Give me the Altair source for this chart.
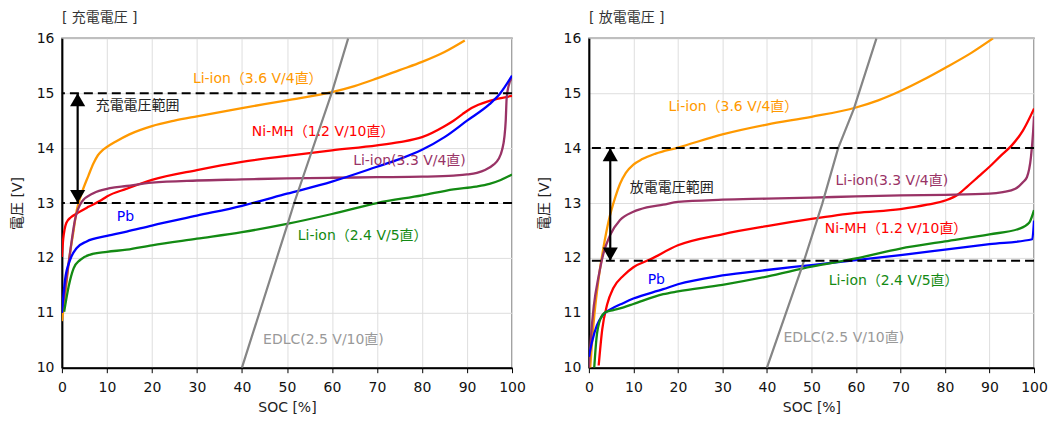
import altair as alt
import pandas as pd

FONT = "DejaVu Sans, Noto Sans CJK JP"

SOC_TICKS = [0, 10, 20, 30, 40, 50, 60, 70, 80, 90, 100]
V_TICKS = [10, 11, 12, 13, 14, 15, 16]

SERIES = ["Li-ion 3.6", "Ni-MH", "Li-ion 3.3", "Pb", "Li-ion 2.4"]
SERIES_COLORS = ["#FF9900", "#FF0000", "#993366", "#0000FF", "#138A13"]

# ---------------- charge (充電電圧) ----------------
CHG_LI36 = [(0, 10.85), (0.7, 11.3), (1.5, 11.9), (2.6, 12.5), (3.3, 12.87), (4.4, 13.18),
            (5.9, 13.5), (7, 13.72), (8, 13.87), (9, 13.96), (10, 14.02), (12, 14.12),
            (15, 14.25), (20, 14.4), (25, 14.5), (30, 14.58), (40, 14.73), (50, 14.87),
            (60, 15.02), (65, 15.13), (70, 15.27), (75, 15.42), (80, 15.57), (85, 15.75),
            (89.5, 15.96)]
CHG_NIMH = [(0, 12.02), (0.3, 12.35), (0.6, 12.52), (1, 12.64), (2, 12.74), (3.3, 12.81),
            (5.9, 12.93), (8.5, 13.04), (10, 13.12), (14.4, 13.26), (20, 13.42), (30, 13.6),
            (40, 13.75), (50, 13.86), (60, 13.96), (70, 14.05), (75, 14.11), (80, 14.2),
            (85, 14.4), (87, 14.5), (89, 14.62), (91, 14.73), (95, 14.86), (100, 14.95)]
CHG_LI33 = [(0, 11.0), (1, 11.6), (1.8, 12.09), (2.9, 12.69), (4.4, 13.02), (7, 13.18),
            (10.7, 13.27), (14.4, 13.31), (20, 13.37), (30, 13.41), (40, 13.43), (50, 13.45),
            (60, 13.46), (70, 13.47), (80, 13.48), (87, 13.5), (90, 13.52), (92.2, 13.55),
            (94, 13.6), (95.9, 13.7), (97, 13.8), (97.8, 13.97), (98.3, 14.2), (98.6, 14.5),
            (98.8, 14.9), (99.2, 15.12), (100, 15.28)]
CHG_PB = [(0, 11.0), (0.7, 11.6), (1.8, 11.96), (3.3, 12.18), (5.5, 12.3), (10, 12.4),
          (14.4, 12.48), (20, 12.59), (30, 12.77), (40, 12.95), (50, 13.17), (60, 13.39),
          (70, 13.66), (75, 13.8), (80, 13.97), (85, 14.2), (90, 14.5), (95, 14.8),
          (97.3, 14.99), (100, 15.32)]
CHG_LI24 = [(0.5, 11.02), (1.5, 11.48), (2.6, 11.81), (4, 11.96), (6.3, 12.06), (10, 12.11),
            (14.4, 12.15), (20, 12.23), (30, 12.35), (40, 12.47), (50, 12.62), (60, 12.8),
            (70, 13.0), (80, 13.14), (87, 13.25), (92, 13.3), (95, 13.35), (97.5, 13.42),
            (100, 13.52)]
CHG_EDLC = [(40, 10.0), (50, 12.58), (51.6, 13.0), (60, 15.02), (63.6, 16.0)]
CHG_DASH = [15, 13]
CHG_ARROW = (3.5, 15, 13)
CHG_LABELS = [
    ("Li-ion（3.6 V/4直）", 29.1, 15.25, "#FF9900"),
    ("充電電圧範囲", 7.5, 14.76, "#222222"),
    ("Ni-MH（1.2 V/10直）", 42.2, 14.3, "#FF0000"),
    ("Li-ion(3.3 V/4直)", 64.7, 13.77, "#993366"),
    ("Pb", 12.2, 12.74, "#0000FF"),
    ("Li-ion（2.4 V/5直）", 52.4, 12.4, "#138A13"),
    ("EDLC(2.5 V/10直)", 44.7, 10.5, "#999999"),
]

# ---------------- discharge (放電電圧) ----------------
DIS_LI36 = [(0.3, 10.0), (1.1, 10.85), (2.2, 11.63), (3.3, 12.2), (4.4, 12.66), (5.9, 13.1),
            (7, 13.35), (8.3, 13.55), (10, 13.7), (12, 13.8), (15, 13.9), (20, 14.01),
            (30, 14.25), (40, 14.43), (50, 14.57), (60, 14.74), (65, 14.87), (70, 15.04),
            (75, 15.24), (80, 15.46), (86, 15.74), (90.8, 16.0)]
DIS_NIMH = [(2.2, 10.04), (3, 10.7), (4.1, 11.15), (5.5, 11.45), (7.8, 11.68), (10, 11.83),
            (13.7, 11.97), (20, 12.23), (30, 12.43), (40, 12.58), (50, 12.71), (60, 12.82),
            (70, 12.89), (76, 12.97), (80.2, 13.05), (83, 13.16), (85, 13.3), (87.5, 13.48),
            (90, 13.66), (92.5, 13.86), (95, 14.05), (97.5, 14.32), (100, 14.72)]
DIS_LI33 = [(0, 10.0), (0.5, 10.6), (1.1, 11.12), (2.2, 11.67), (3.3, 12.09), (4.8, 12.42),
            (7, 12.69), (10, 12.84), (13, 12.92), (16.7, 12.97), (20, 13.02), (30, 13.06),
            (40, 13.08), (50, 13.1), (60, 13.12), (70, 13.14), (80, 13.15), (90, 13.17),
            (93, 13.2), (95.8, 13.26), (97.5, 13.38), (98.4, 13.47), (99.3, 13.83),
            (99.8, 14.3), (100, 14.58)]
DIS_PB = [(0, 10.2), (0.7, 10.47), (1.8, 10.77), (3, 10.95), (4.8, 11.06), (7.8, 11.18),
          (10, 11.26), (16.7, 11.43), (20, 11.52), (30, 11.68), (40, 11.78), (50, 11.87),
          (60, 11.96), (70, 12.05), (80, 12.15), (90, 12.25), (99.6, 12.34), (100, 12.68)]
DIS_LI24 = [(1.2, 10.0), (1.7, 10.53), (2.6, 10.89), (3.7, 11.01), (5.5, 11.05), (7.8, 11.1),
            (10, 11.16), (16.7, 11.34), (20, 11.39), (30, 11.51), (40, 11.66), (50, 11.84),
            (60, 11.99), (70, 12.17), (80, 12.3), (90, 12.43), (96.6, 12.53), (98.9, 12.64),
            (100, 12.87)]
DIS_EDLC = [(40, 10.0), (47.9, 11.84), (52.4, 12.98), (56, 14.0), (59.5, 14.71), (64.6, 16.0)]
DIS_DASH = [14, 11.95]
DIS_ARROW = (4.8, 14, 11.95)
DIS_LABELS = [
    ("Li-ion（3.6 V/4直）", 17.9, 14.75, "#FF9900"),
    ("放電電圧範囲", 9.2, 13.27, "#222222"),
    ("Li-ion(3.3 V/4直)", 55.4, 13.4, "#993366"),
    ("Ni-MH（1.2 V/10直）", 53.0, 12.53, "#FF0000"),
    ("Pb", 13.2, 11.6, "#0000FF"),
    ("Li-ion（2.4 V/5直）", 53.9, 11.58, "#138A13"),
    ("EDLC(2.5 V/10直)", 43.7, 10.54, "#999999"),
]

X_AXIS = alt.Axis(values=SOC_TICKS, grid=True, labelFlush=False, labelOverlap=False,
                  tickSize=5, labelPadding=8, titleY=40, titleBaseline="middle")
Y_AXIS = alt.Axis(values=V_TICKS, grid=True, ticks=False, labelPadding=8,
                  titleX=-44, titleBaseline="middle", labelOverlap=False)


def X(field):
    return alt.X(field, type="quantitative", title="SOC [%]",
                 scale=alt.Scale(domain=[0, 100], nice=False, zero=False), axis=X_AXIS)


def Y(field):
    return alt.Y(field, type="quantitative", title="電圧 [V]",
                 scale=alt.Scale(domain=[10, 16], nice=False, zero=False), axis=Y_AXIS)


def panel(title, series_pts, edlc, dashes, arrow, labels, width):
    rows = []
    for name, pts in zip(SERIES, series_pts):
        for i, (s, v) in enumerate(pts):
            rows.append({"series": name, "soc": s, "v": v, "i": i})
    df = pd.DataFrame(rows)
    lines = alt.Chart(df).mark_line(interpolate="monotone", strokeWidth=2.3, clip=True).encode(
        x=X("soc"), y=Y("v"),
        color=alt.Color("series:N", scale=alt.Scale(domain=SERIES, range=SERIES_COLORS), legend=None),
        detail="series:N", order="i:Q")
    edf = pd.DataFrame({"soc": [p[0] for p in edlc], "v": [p[1] for p in edlc]})
    edlc_line = alt.Chart(edf).mark_line(color="#858585", strokeWidth=2.2, clip=True).encode(
        x=X("soc"), y=Y("v"))
    ddf = pd.DataFrame({"v": dashes})
    dash = alt.Chart(ddf).mark_rule(color="black", strokeDash=[9, 5], strokeWidth=2).encode(y=Y("v"))
    adf = pd.DataFrame({"soc": [arrow[0]], "top": [arrow[1]], "bot": [arrow[2]]})
    arule = alt.Chart(adf).mark_rule(color="black", strokeWidth=2.2).encode(
        x=X("soc"), y=Y("top"), y2="bot:Q")
    head_up = alt.Chart(adf).mark_point(shape="triangle-up", filled=True, size=230, color="black",
                                        opacity=1, yOffset=6.5).encode(x=X("soc"), y=Y("top"))
    head_dn = alt.Chart(adf).mark_point(shape="triangle-down", filled=True, size=230, color="black",
                                        opacity=1, yOffset=-6.5).encode(x=X("soc"), y=Y("bot"))
    ldf = pd.DataFrame({"text": [l[0] for l in labels], "soc": [l[1] for l in labels],
                        "v": [l[2] for l in labels], "color": [l[3] for l in labels]})
    text = alt.Chart(ldf).mark_text(align="left", baseline="middle", fontSize=14, font=FONT).encode(
        x=X("soc"), y=Y("v"), text="text:N", color=alt.Color("color:N", scale=None))
    return alt.layer(lines, edlc_line, dash, arule, head_up, head_dn, text).properties(
        width=width, height=330,
        title=alt.TitleParams(title, anchor="start", frame="group", fontSize=14, fontWeight="normal",
                              font=FONT, color="#333333", offset=6))


left = panel("[ 充電電圧 ]", [CHG_LI36, CHG_NIMH, CHG_LI33, CHG_PB, CHG_LI24], CHG_EDLC,
             CHG_DASH, CHG_ARROW, CHG_LABELS, 451)
right = panel("[ 放電電圧 ]", [DIS_LI36, DIS_NIMH, DIS_LI33, DIS_PB, DIS_LI24], DIS_EDLC,
              DIS_DASH, DIS_ARROW, DIS_LABELS, 446)

chart = alt.hconcat(left, right, spacing=77, bounds="flush").properties(
    padding={"left": 2, "top": 2, "right": 0, "bottom": 0}, background="white"
).configure_view(
    stroke="#808080", strokeWidth=1.5
).configure_axis(
    gridColor="#dedede", gridWidth=1, domainColor="black", domainWidth=2,
    tickColor="black", labelFont=FONT, titleFont=FONT, labelFontSize=14, titleFontSize=14,
    labelColor="#111111", titleColor="#222222", titleFontWeight="normal"
)

chart.save("out.html", embed_options={"renderer": "svg", "actions": False})
